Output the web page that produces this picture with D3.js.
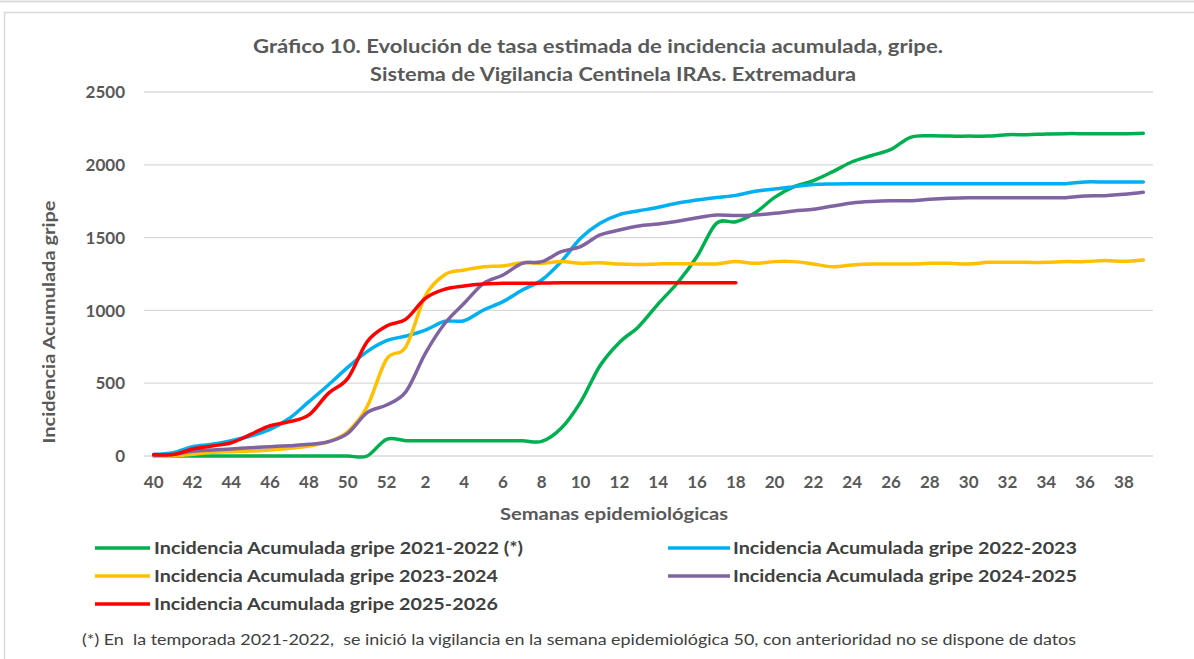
<!DOCTYPE html>
<html>
<head>
<meta charset="utf-8">
<script src="https://cdn.jsdelivr.net/npm/d3@7"></script>
<style>
  html, body { margin: 0; padding: 0; background: #fff; }
  svg { display: block; font-family: Lato, "Open Sans", sans-serif; }
</style>
</head>
<body>
<div id="chart"></div>
<script>
// semanas epidemiológicas (40..52, 1..39)
const weeks = [40,41,42,43,44,45,46,47,48,49,50,51,52,1,2,3,4,5,6,7,8,9,10,11,12,13,14,15,16,17,18,19,20,21,22,23,24,25,26,27,28,29,30,31,32,33,34,35,36,37,38,39];
const yTicks = [0, 500, 1000, 1500, 2000, 2500];

const ia2122 = [0,0,0,0,0,0,0,0,0,0,0,0,115,105,105,105,105,105,105,105,100,190,370,620,780,890,1045,1190,1370,1598,1609,1671,1776,1850,1891,1953,2021,2064,2106,2189,2200,2197,2197,2197,2207,2207,2212,2214,2214,2214,2214,2217];
const ia2223 = [10,23,64,80,105,137,183,259,373,488,609,717,792,824,865,925,929,1003,1060,1140,1209,1335,1495,1598,1658,1684,1708,1738,1758,1776,1790,1818,1834,1850,1864,1868,1870,1870,1870,1870,1870,1870,1870,1870,1870,1870,1870,1870,1882,1882,1882,1882];
const ia2324 = [0,0,12,25,30,34,41,53,69,98,167,339,665,751,1100,1245,1277,1300,1305,1328,1323,1335,1323,1328,1318,1316,1319,1321,1319,1319,1335,1323,1335,1335,1319,1300,1312,1319,1319,1319,1323,1323,1319,1330,1330,1330,1330,1335,1335,1342,1337,1346];
const ia2425 = [5,10,32,41,48,57,64,71,80,98,156,298,350,442,705,910,1049,1186,1243,1323,1335,1403,1438,1518,1552,1580,1593,1612,1636,1655,1651,1655,1667,1683,1694,1717,1738,1748,1753,1753,1763,1770,1774,1774,1774,1774,1774,1774,1786,1788,1797,1811];
const ia2526 = [10,10,48,69,91,149,208,236,282,430,533,785,893,940,1083,1145,1168,1181,1186,1186,1188,1190,1190,1190,1190,1190,1190,1190,1190,1190,1190];

const series = [
  { name: "Incidencia Acumulada gripe 2021-2022 (*)", values: ia2122, color: "#00B050" },
  { name: "Incidencia Acumulada gripe 2022-2023", values: ia2223, color: "#00B0F0" },
  { name: "Incidencia Acumulada gripe 2023-2024", values: ia2324, color: "#FFC000" },
  { name: "Incidencia Acumulada gripe 2024-2025", values: ia2425, color: "#8064A2" },
  { name: "Incidencia Acumulada gripe 2025-2026", values: ia2526, color: "#FF0000" }
];

const W = 1194, H = 659;
const svg = d3.select("#chart").append("svg").attr("width", W).attr("height", H);
const txt = "#595959";

// frame
svg.append("line").attr("x1", 0).attr("x2", W).attr("y1", 1.5).attr("y2", 1.5)
  .attr("stroke", "#d9d9d9").attr("stroke-width", 2);
svg.append("rect").attr("x", 4.5).attr("y", 12.5).attr("width", W + 10).attr("height", H + 10)
  .attr("fill", "none").attr("stroke", "#d9d9d9").attr("stroke-width", 1.5);

// title
svg.append("text").attr("x", 598).attr("y", 53).attr("text-anchor", "middle")
  .attr("font-size", 18).attr("font-weight", "bold").attr("fill", txt)
  .attr("textLength", 690).attr("lengthAdjust", "spacingAndGlyphs")
  .text("Gráfico 10. Evolución de tasa estimada de incidencia acumulada, gripe.");
svg.append("text").attr("x", 613).attr("y", 81).attr("text-anchor", "middle")
  .attr("font-size", 18).attr("font-weight", "bold").attr("fill", txt)
  .attr("textLength", 486).attr("lengthAdjust", "spacingAndGlyphs")
  .text("Sistema de Vigilancia Centinela IRAs. Extremadura");

// scales
const x = d3.scaleBand().domain(d3.range(weeks.length)).range([144, 1153]).padding(0);
const cx = i => x(i) + x.bandwidth() / 2;
const y = d3.scaleLinear().domain([0, 2500]).range([456, 92]);

// gridlines
svg.append("g").selectAll("line").data(yTicks).enter().append("line")
  .attr("x1", 144).attr("x2", 1153)
  .attr("y1", d => y(d)).attr("y2", d => y(d))
  .attr("stroke", "#d9d9d9").attr("stroke-width", 1.3);

// y labels
svg.append("g").selectAll("text").data(yTicks).enter().append("text")
  .attr("x", 125).attr("y", d => y(d)).attr("dy", "0.36em").attr("text-anchor", "end")
  .attr("font-size", 17).attr("font-weight", "bold").attr("fill", txt)
  .text(d => d);

// x labels (every other week)
svg.append("g").selectAll("text").data(d3.range(0, weeks.length, 2)).enter().append("text")
  .attr("x", i => cx(i)).attr("y", 488).attr("text-anchor", "middle")
  .attr("font-size", 17).attr("font-weight", "bold").attr("fill", txt)
  .text(i => weeks[i]);

// axis titles
svg.append("text").attr("x", 614).attr("y", 520).attr("text-anchor", "middle")
  .attr("font-size", 17).attr("font-weight", "bold").attr("fill", txt)
  .attr("textLength", 228).attr("lengthAdjust", "spacingAndGlyphs")
  .text("Semanas epidemiológicas");
svg.append("text").attr("transform", "translate(55,322) rotate(-90)").attr("text-anchor", "middle")
  .attr("font-size", 17).attr("font-weight", "bold").attr("fill", txt)
  .attr("textLength", 243).attr("lengthAdjust", "spacingAndGlyphs")
  .text("Incidencia Acumulada gripe");

// lines
const line = d3.line().x((d, i) => cx(i)).y(d => y(d)).curve(d3.curveCardinal.tension(0));
svg.append("g").selectAll("path").data(series).enter().append("path")
  .attr("d", s => line(s.values))
  .attr("fill", "none").attr("stroke", s => s.color)
  .attr("stroke-width", 3.5).attr("stroke-linejoin", "round").attr("stroke-linecap", "round");

// legend
const legPos = [[95, 548], [668, 548], [95, 576], [668, 576], [95, 604]];
const leg = svg.append("g").selectAll("g").data(series).enter().append("g")
  .attr("transform", (d, i) => `translate(${legPos[i][0]},${legPos[i][1]})`);
leg.append("line").attr("x1", 0).attr("x2", (d, i) => i % 2 ? 62 : 55).attr("y1", 0).attr("y2", 0)
  .attr("stroke", d => d.color).attr("stroke-width", 3.5);
leg.append("text").attr("x", (d, i) => i % 2 ? 65 : 59).attr("y", 0).attr("dy", "0.36em")
  .attr("font-size", 17).attr("font-weight", "bold").attr("fill", "#404040")
  .attr("textLength", (d, i) => i === 0 ? 369 : 344).attr("lengthAdjust", "spacingAndGlyphs")
  .text(d => d.name);

// footnote
svg.append("text").attr("x", 82).attr("y", 645)
  .attr("font-size", 16).attr("fill", "#404040")
  .attr("textLength", 994).attr("lengthAdjust", "spacingAndGlyphs")
  .attr("style", "white-space: pre")
  .text("(*) En  la temporada 2021-2022,  se inició la vigilancia en la semana epidemiológica 50, con anterioridad no se dispone de datos");
</script>
</body>
</html>
